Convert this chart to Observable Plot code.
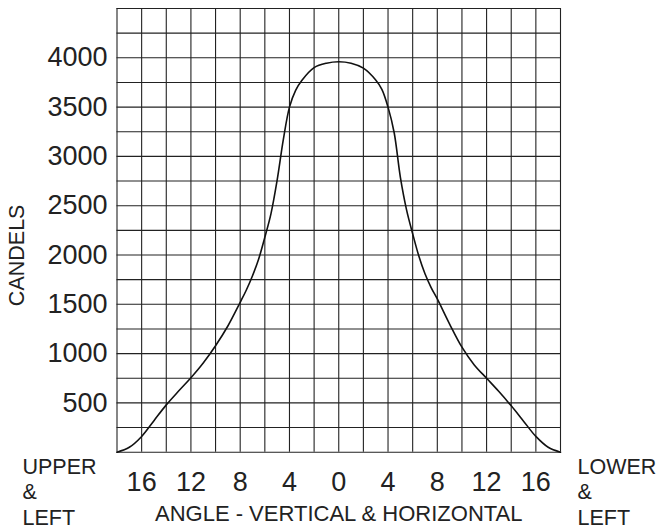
<!DOCTYPE html>
<html>
<head>
<meta charset="utf-8">
<script src="https://cdn.jsdelivr.net/npm/d3@7"></script>
<script src="https://cdn.jsdelivr.net/npm/@observablehq/plot@0.6"></script>
<style>
  html, body { margin: 0; padding: 0; background: #fff; }
</style>
</head>
<body>
<div id="chart"></div>
<script>
// Angle (degrees) and intensity (candela)
const angles = [-18, -17, -16, -15, -14, -13, -12, -11, -10, -9, -8, -7.5, -7, -6.5, -6, -5.5, -5, -4.5, -4, -3.5, -3, -2, -1, 0,
                1, 2, 3, 3.5, 4, 4.5, 5, 5.5, 6, 6.5, 7, 7.5, 8, 9, 10, 11, 12, 13, 14, 15, 16, 17, 18];
const candels = [0, 50, 160, 320, 480, 620, 755, 905, 1080, 1280, 1520, 1645, 1790, 1960, 2180, 2420, 2760, 3170, 3500, 3670, 3770, 3900, 3945, 3960,
                 3945, 3895, 3775, 3680, 3500, 3240, 2790, 2460, 2215, 1990, 1810, 1670, 1555, 1300, 1065, 885, 750, 615, 470, 315, 160, 50, 0];

// Grid and tick values
const xGrid = [-18, -16, -14, -12, -10, -8, -6, -4, -2, 0, 2, 4, 6, 8, 10, 12, 14, 16, 18];
const yGrid = [0, 250, 500, 750, 1000, 1250, 1500, 1750, 2000, 2250, 2500, 2750, 3000, 3250, 3500, 3750, 4000, 4250, 4500];
const xTicks = [-16, -12, -8, -4, 0, 4, 8, 12, 16];
const yTicks = [500, 1000, 1500, 2000, 2500, 3000, 3500, 4000];

// Text
const yTitle = "CANDELS";
const xTitle = "ANGLE - VERTICAL & HORIZONTAL";
const leftNote = "UPPER\n&\nLEFT";
const rightNote = "LOWER\n&\nLEFT";

const data = angles.map((a, i) => ({angle: a, candela: candels[i]}));
const FONT = "'Liberation Sans', Arial, sans-serif";

const chart = Plot.plot({
  width: 658,
  height: 529,
  marginLeft: 116.5,
  marginRight: 98,
  marginTop: 8,
  marginBottom: 77.3,
  style: {fontFamily: FONT, color: "#222", background: "#fff", overflow: "visible"},
  x: {domain: [-18, 18]},
  y: {domain: [0, 4500]},
  marks: [
    Plot.ruleX(xGrid, {stroke: "#222", strokeWidth: 1.1}),
    Plot.ruleY(yGrid, {stroke: "#222", strokeWidth: 1.1}),
    Plot.line(data, {x: "angle", y: "candela", curve: "catmull-rom", stroke: "#111", strokeWidth: 1.6}),
    Plot.axisY({ticks: yTicks, tickSize: 0, tickPadding: 9.5, fontSize: 27, label: null, tickFormat: d => String(d), fill: "#222"}),
    Plot.axisX({ticks: xTicks, tickSize: 0, tickPadding: 20, fontSize: 27, label: null, tickFormat: d => String(Math.abs(d)), fill: "#222"}),
    Plot.text([yTitle], {text: d => d, frameAnchor: "left", rotate: -90, dx: -100, dy: 25, fontSize: 21.5, textAnchor: "middle", lineAnchor: "middle", fill: "#222"}),
    Plot.text([xTitle], {text: d => d, frameAnchor: "bottom", dy: 68.3, fontSize: 22, textAnchor: "middle", lineAnchor: "bottom", fill: "#222"}),
    Plot.text([leftNote], {text: d => d, frameAnchor: "bottom-left", dx: -94.5, dy: 3.3, fontSize: 21.5, lineHeight: 1.19, textAnchor: "start", lineAnchor: "top", fill: "#222"}),
    Plot.text([rightNote], {text: d => d, frameAnchor: "bottom-right", dx: 17, dy: 3.3, fontSize: 21.5, lineHeight: 1.19, textAnchor: "start", lineAnchor: "top", fill: "#222"})
  ]
});
document.getElementById("chart").appendChild(chart);
</script>
</body>
</html>
